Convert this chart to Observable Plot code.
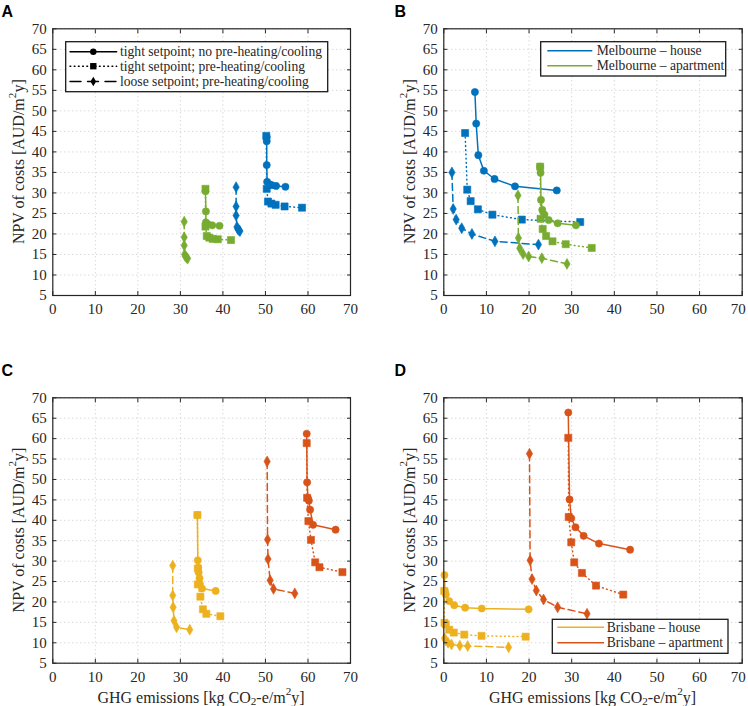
<!DOCTYPE html>
<html><head><meta charset="utf-8">
<script src="https://cdn.jsdelivr.net/npm/d3@7"></script>
<script src="https://cdn.jsdelivr.net/npm/@observablehq/plot@0.6"></script>
<style>
body{margin:0;background:#fff;}
#fig{position:relative;width:748px;height:706px;overflow:hidden;background:#fff;}
#fig > svg{position:absolute;}
</style></head><body><div id="fig"></div>
<script>
// ---------- data ----------
const xTicks = [0,10,20,30,40,50,60,70];
const yTicks = [5,10,15,20,25,30,35,40,45,50,55,60,65,70];
const styleNames = ["tight setpoint; no pre-heating/cooling","tight setpoint; pre-heating/cooling","loose setpoint; pre-heating/cooling"];
const seriesNamesB = ["Melbourne \u2013 house","Melbourne \u2013 apartment"];
const seriesNamesD = ["Brisbane \u2013 house","Brisbane \u2013 apartment"];

// Panel A
const A_house_tight = [[50.3,43.6],[50.3,42.6],[50.3,36.8],[50.4,32.7],[50.9,32.1],[51.5,31.9],[52.5,31.7],[54.7,31.5]];
const A_house_pre = [[50.2,43.9],[50.3,31.0],[50.6,27.9],[51.4,27.4],[52.4,27.1],[54.5,26.7],[58.6,26.4]];
const A_house_loose = [[43.1,31.4],[43.1,26.7],[43.1,24.5],[43.3,21.7],[43.5,21.2],[43.8,20.9],[44.0,20.7]];
const A_apt_tight = [[35.9,30.4],[36.0,25.5],[36.0,22.8],[36.2,22.5],[36.6,22.3],[37.5,22.1],[39.2,22.0]];
const A_apt_pre = [[35.9,31.0],[35.9,21.8],[36.2,19.5],[36.8,19.1],[37.6,18.8],[38.8,18.7],[41.9,18.5]];
const A_apt_loose = [[30.9,23.0],[30.9,19.2],[30.9,17.2],[31.0,15.0],[31.2,14.5],[31.5,14.2],[31.7,14.0]];
// Panel B
const B_house_tight = [[7.3,54.6],[7.6,46.9],[8.1,39.2],[9.4,35.4],[11.9,33.4],[16.7,31.6],[26.5,30.6]];
const B_house_pre = [[5.0,44.6],[5.5,30.8],[6.3,28.0],[8.0,26.0],[11.4,24.7],[18.3,23.5],[32.0,22.9]];
const B_house_loose = [[1.9,35.0],[2.2,26.1],[2.9,23.5],[4.2,21.4],[6.6,20.0],[12.0,18.2],[22.2,17.4]];
const B_apt_tight = [[22.6,36.4],[22.7,34.9],[22.8,28.3],[23.1,25.9],[23.6,24.7],[24.6,23.4],[26.7,22.6],[31.0,22.1]];
const B_apt_pre = [[22.6,36.4],[22.7,23.7],[23.2,21.2],[24.0,19.5],[25.5,18.2],[28.6,17.5],[34.7,16.6]];
const B_apt_loose = [[17.4,29.4],[17.5,19.0],[17.8,16.5],[18.6,15.1],[19.9,14.5],[23.0,14.1],[28.9,12.7]];
// Panel C
const C_house_tight = [[34.0,41.3],[34.1,30.2],[34.2,28.4],[34.3,27.2],[34.5,25.8],[34.6,24.4],[35.1,23.3],[38.3,22.7]];
const C_house_pre = [[34.0,41.3],[34.1,28.2],[34.1,24.3],[34.7,21.3],[35.3,18.2],[36.1,17.1],[39.4,16.5]];
const C_house_loose = [[28.2,28.9],[28.2,21.6],[28.3,18.7],[28.5,15.4],[29.1,13.8],[32.2,13.2]];
const C_apt_tight = [[59.7,61.2],[59.8,49.3],[60.0,45.4],[60.2,44.8],[60.5,42.6],[61.2,38.9],[66.5,37.7]];
const C_apt_pre = [[59.7,58.9],[59.8,45.5],[60.1,39.8],[60.7,35.2],[61.7,29.7],[62.7,28.5],[68.1,27.3]];
const C_apt_loose = [[50.4,54.4],[50.5,35.3],[50.6,30.5],[51.1,25.3],[51.9,23.2],[56.9,22.1]];
// Panel D
const D_house_tight = [[0.16,26.6],[0.3,22.6],[0.47,21.8],[1.27,20.2],[2.44,19.2],[5.0,18.6],[8.9,18.4],[19.9,18.2]];
const D_house_pre = [[0.1,22.7],[0.16,14.9],[0.47,14.5],[1.27,13.2],[2.35,12.5],[4.8,12.0],[8.85,11.7],[19.2,11.5]];
const D_house_loose = [[0.16,11.1],[0.47,10.6],[1.0,10.0],[1.8,9.6],[3.75,9.3],[5.6,9.2],[15.2,8.9]];
const D_apt_tight = [[29.2,66.4],[29.5,45.1],[29.9,40.5],[30.9,38.3],[32.8,36.2],[36.4,34.3],[43.7,32.8]];
const D_apt_pre = [[29.2,60.2],[29.3,40.8],[29.9,34.6],[30.6,29.7],[32.4,27.1],[35.7,24.0],[42.1,21.8]];
const D_apt_loose = [[20.1,56.3],[20.25,30.2],[20.7,25.6],[21.7,22.8],[23.4,20.6],[26.7,18.7],[33.6,17.1]];

// ---------- styling ----------
const C = {blue:"#0072BD", green:"#77AC30", yellow:"#EDB120", orange:"#D95319"};
const dashes = [null, "0.8,3.4", "7,4"];
const symbols = ["circle","square","diamond"];
const radii = [3.6, 4.0, 3.3];
const ink = "#262626";
const serif = "'Liberation Serif', 'Times New Roman', serif";

function series(data, style, color){ return {data, style, color}; }

const panels = [
  {left:0, top:0, width:374, height:340, ml:52.3, mr:24, mt:28.3, mb:45, edge:false,
   series:[series(A_house_tight,0,C.blue),series(A_house_pre,1,C.blue),series(A_house_loose,2,C.blue),
           series(A_apt_tight,0,C.green),series(A_apt_pre,1,C.green),series(A_apt_loose,2,C.green)]},
  {left:374, top:0, width:374, height:340, ml:69.3, mr:6.3, mt:28.3, mb:45, edge:true,
   series:[series(B_house_tight,0,C.blue),series(B_house_pre,1,C.blue),series(B_house_loose,2,C.blue),
           series(B_apt_tight,0,C.green),series(B_apt_pre,1,C.green),series(B_apt_loose,2,C.green)]},
  {left:0, top:340, width:374, height:366, ml:52.3, mr:24, mt:57.3, mb:43.3, edge:false,
   series:[series(C_house_tight,0,C.yellow),series(C_house_pre,1,C.yellow),series(C_house_loose,2,C.yellow),
           series(C_apt_tight,0,C.orange),series(C_apt_pre,1,C.orange),series(C_apt_loose,2,C.orange)]},
  {left:374, top:340, width:374, height:366, ml:69.3, mr:6.3, mt:57.3, mb:43.3, edge:true,
   series:[series(D_house_tight,0,C.yellow),series(D_house_pre,1,C.yellow),series(D_house_loose,2,C.yellow),
           series(D_apt_tight,0,C.orange),series(D_apt_pre,1,C.orange),series(D_apt_loose,2,C.orange)]}
];

const fig = document.getElementById("fig");
const lastX = xTicks[xTicks.length - 1];

panels.forEach(p => {
  const marks = [
    Plot.gridX(xTicks, {stroke:"#c8c8c8", strokeOpacity:1, strokeWidth:1, strokeDasharray:"1,3"}),
    Plot.gridY(yTicks, {stroke:"#c8c8c8", strokeOpacity:1, strokeWidth:1, strokeDasharray:"1,3"})
  ];
  p.series.forEach(s => {
    marks.push(Plot.line(s.data, {x: d => d[0], y: d => d[1], stroke: s.color, strokeWidth: 1.5,
      strokeDasharray: dashes[s.style]}));
    marks.push(Plot.dot(s.data, {x: d => d[0], y: d => d[1], symbol: symbols[s.style], r: radii[s.style],
      fill: s.color, stroke: s.color, strokeWidth: 0.6}));
  });
  marks.push(Plot.frame({stroke: ink, strokeWidth: 1.2}));
  marks.push(Plot.axisX(xTicks, {anchor:"bottom", tickSize:-4, tickPadding:12, label:null, stroke:ink,
    tickFormat: d => (p.edge && d === lastX) ? "" : String(d)}));
  if (p.edge) {
    marks.push(Plot.axisX([lastX], {anchor:"bottom", tickSize:0, tickPadding:8, dx:-4, label:null}));
  }
  marks.push(Plot.axisX(xTicks, {anchor:"top", tickSize:-4, tickFormat:() => "", label:null, stroke:ink}));
  marks.push(Plot.axisY(yTicks, {anchor:"left", tickSize:-4, tickPadding:10, label:null, stroke:ink}));
  marks.push(Plot.axisY(yTicks, {anchor:"right", tickSize:-4, tickFormat:() => "", label:null, stroke:ink}));
  const svg = Plot.plot({
    width: p.width, height: p.height,
    marginLeft: p.ml, marginRight: p.mr, marginTop: p.mt, marginBottom: p.mb,
    x: {domain:[0,70], axis:null},
    y: {domain:[5,70], axis:null},
    style: {fontFamily: serif, fontSize: "15px", color: ink, background: "transparent", overflow: "visible"},
    marks
  });
  svg.style.left = p.left + "px";
  svg.style.top = p.top + "px";
  fig.appendChild(svg);
});

// ---------- overlay: letters, axis titles, legends ----------
const ov = d3.select(fig).append("svg")
  .attr("width", 748).attr("height", 706)
  .style("left","0px").style("top","0px").style("pointer-events","none");

[["A",1.5,17.3],["B",394.5,17.3],["C",1.5,376],["D",394.5,376]].forEach(([t,x,y]) => {
  ov.append("text").attr("x",x).attr("y",y).text(t)
    .attr("font-family","'Liberation Sans', Arial, sans-serif").attr("font-weight","bold")
    .attr("font-size",16).attr("fill","#000");
});

function yLabel(cx, cy){
  const t = ov.append("text")
    .attr("transform",`translate(${cx},${cy}) rotate(-90)`)
    .attr("text-anchor","middle").attr("dominant-baseline","central")
    .attr("font-family",serif).attr("font-size",16).attr("fill",ink);
  t.append("tspan").text("NPV of costs [AUD/m");
  t.append("tspan").attr("font-size","70%").attr("dy",-6).text("2");
  t.append("tspan").attr("dy",6).text("y]");
}
function xLabel(cx, cy){
  const t = ov.append("text")
    .attr("x",cx).attr("y",cy)
    .attr("text-anchor","middle").attr("dominant-baseline","central")
    .attr("font-family",serif).attr("font-size",16).attr("fill",ink);
  t.append("tspan").text("GHG emissions [kg CO");
  t.append("tspan").attr("font-size","70%").attr("dy",4).text("2");
  t.append("tspan").attr("dy",-4).text("-e/m");
  t.append("tspan").attr("font-size","70%").attr("dy",-6).text("2");
  t.append("tspan").attr("dy",6).text("y]");
}
yLabel(17.5,161.7); yLabel(408.5,161.7); yLabel(17.5,530); yLabel(408.5,530);
xLabel(201,697); xLabel(592.5,697);

function legendBox(x0,y0,x1,y1){
  ov.append("rect").attr("x",x0).attr("y",y0).attr("width",x1-x0).attr("height",y1-y0)
    .attr("fill","#fff").attr("stroke","#1a1a1a").attr("stroke-width",1.3);
}
function legendText(x,y,txt){
  ov.append("text").attr("x",x).attr("y",y).attr("dominant-baseline","central")
    .attr("font-family",serif).attr("font-size",13.6).attr("fill",ink).text(txt);
}
// Legend A (line styles)
legendBox(65.7,41.7,327.7,91.7);
const symFns = [d3.symbolCircle, d3.symbolSquare, d3.symbolDiamond];
[51.7,66.2,81.5].forEach((y,i) => {
  ov.append("line").attr("x1",70).attr("x2",116.7).attr("y1",y).attr("y2",y)
    .attr("stroke","#000").attr("stroke-width",1.4)
    .attr("stroke-dasharray", i===0 ? null : (i===1 ? "0.8,3.4" : "11,6.5"))
    .attr("stroke-linecap","round");
  ov.append("path").attr("transform",`translate(93.3,${y})`)
    .attr("d", d3.symbol(symFns[i], Math.PI*radii[i]*radii[i]*0.8)())
    .attr("fill","#000");
  legendText(120,y,styleNames[i]);
});
// Legend B
legendBox(540.7,41.7,725.7,76);
[[50.7,C.blue],[65.7,C.green]].forEach(([y,c],i) => {
  ov.append("line").attr("x1",547.3).attr("x2",592.3).attr("y1",y).attr("y2",y)
    .attr("stroke",c).attr("stroke-width",1.5);
  legendText(596.7,y,seriesNamesB[i]);
});
// Legend D
legendBox(552.3,619.3,728,653.3);
[[627.3,C.yellow],[642.7,C.orange]].forEach(([y,c],i) => {
  ov.append("line").attr("x1",557.3).attr("x2",604).attr("y1",y).attr("y2",y)
    .attr("stroke",c).attr("stroke-width",1.5);
  legendText(606.7,y,seriesNamesD[i]);
});
</script></body></html>
